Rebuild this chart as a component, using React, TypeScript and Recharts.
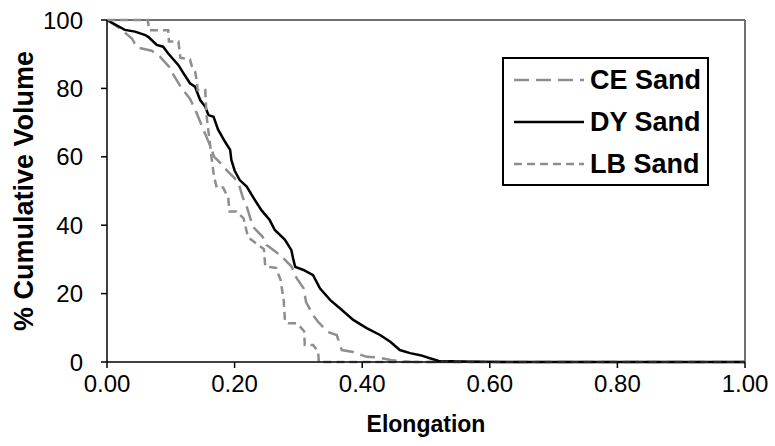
import { LineChart, Line, XAxis, YAxis, ReferenceLine } from "recharts"

const xTicks = [0, 0.2, 0.4, 0.6, 0.8, 1.0]
const yTicks = [0, 20, 40, 60, 80, 100]

const ceX = [0, 0.02, 0.039, 0.047, 0.07, 0.083, 0.099, 0.104, 0.117, 0.13, 0.14, 0.151, 0.16, 0.168, 0.176, 0.19, 0.2, 0.208, 0.213, 0.218, 0.229, 0.244, 0.25, 0.266, 0.276, 0.289, 0.297, 0.308, 0.312, 0.323, 0.331, 0.346, 0.36, 0.368, 0.386, 0.407, 0.425, 0.444, 0.46, 0.48, 1.0]
const ceY = [100, 97.6, 94.6, 92, 91, 89.3, 86, 84, 80, 77, 73, 68, 64, 60, 58.5, 55.6, 53.8, 51.2, 48, 46, 39.5, 36.6, 34.2, 32, 30.4, 28, 24.6, 21.6, 17.5, 13.7, 11.7, 8.8, 7.9, 3.5, 2.9, 1.5, 1.3, 0.6, 0.2, 0, 0]

const dyX = [0, 0.028, 0.044, 0.06, 0.065, 0.078, 0.088, 0.096, 0.112, 0.12, 0.13, 0.138, 0.146, 0.154, 0.159, 0.167, 0.174, 0.185, 0.193, 0.195, 0.2, 0.208, 0.219, 0.232, 0.242, 0.255, 0.263, 0.279, 0.289, 0.292, 0.295, 0.308, 0.323, 0.334, 0.35, 0.365, 0.386, 0.407, 0.428, 0.444, 0.459, 0.475, 0.491, 0.511, 0.52, 0.56, 0.62, 1.0]
const dyY = [100, 97.1, 96.6, 95.6, 95, 92.7, 92.2, 90.2, 86.8, 84.4, 81.5, 80.5, 76.6, 74.6, 72.2, 71.7, 68, 64.4, 62, 59, 56, 53.2, 51.3, 47.3, 44.4, 41.5, 38.6, 35.7, 32.7, 30, 27.8, 26.9, 25.4, 21.5, 18.1, 15.7, 12.3, 9.9, 7.9, 5.9, 3.5, 2.6, 2, 0.8, 0.3, 0.15, 0, 0]

const lbX = [0, 0.064, 0.066, 0.096, 0.097, 0.112, 0.115, 0.13, 0.133, 0.138, 0.141, 0.142, 0.154, 0.156, 0.16, 0.165, 0.168, 0.172, 0.182, 0.19, 0.192, 0.203, 0.214, 0.221, 0.235, 0.246, 0.248, 0.265, 0.272, 0.277, 0.279, 0.284, 0.298, 0.309, 0.31, 0.323, 0.331, 0.332, 1.0]
const lbY = [100, 100, 97, 97, 93.7, 93.7, 89, 88.5, 86.5, 85, 82, 79.5, 79.5, 72, 66, 58, 54, 51, 51, 48, 44, 44, 42, 36.5, 34.5, 33, 28, 27.5, 24, 18, 12, 11.3, 11.3, 9, 5, 5, 3, 0, 0]

const toPoints = (xs: number[], ys: number[]) => xs.map((e, i) => ({ e, v: ys[i] }))

const GRAY = "#8e8e8e"
const FONT = "'Liberation Sans', Arial, sans-serif"

const series = [
    { name: "CE Sand", stroke: GRAY, dash: "15 7" },
    { name: "DY Sand", stroke: "#000", dash: undefined },
    { name: "LB Sand", stroke: GRAY, dash: "8 5" }
]

// legend drawn as an overlay so it doesn't eat into the plot height
function LegendBox() {
    return (
        <div
            style={{
                position: "absolute",
                left: 502,
                top: 57,
                width: 203,
                height: 125,
                border: "2px solid #000",
                background: "#fff",
                fontFamily: FONT
            }}
        >
            {series.map((s, i) => (
                <div
                    key={s.name}
                    style={{
                        position: "absolute",
                        left: 10,
                        top: 6 + i * 42,
                        height: 30,
                        display: "flex",
                        alignItems: "center"
                    }}
                >
                    <svg width={70} height={10}>
                        <line
                            x1={0}
                            y1={5}
                            x2={70}
                            y2={5}
                            stroke={s.stroke}
                            strokeWidth={2.5}
                            strokeDasharray={s.dash}
                        />
                    </svg>
                    <span style={{ marginLeft: 6, fontSize: 27, fontWeight: 700, color: "#000", whiteSpace: "nowrap" }}>
                        {s.name}
                    </span>
                </div>
            ))}
        </div>
    )
}

function YTitle({ viewBox }: any) {
    const cy = viewBox.y + viewBox.height / 2
    return (
        <text
            x={24}
            y={cy}
            transform={`rotate(-90 24 ${cy})`}
            textAnchor="middle"
            dominantBaseline="central"
            fontFamily={FONT}
            fontSize={27}
            fontWeight={700}
            fill="#000"
        >
            % Cumulative Volume
        </text>
    )
}

export default function App() {
    const tick = { fill: "#000", fontSize: 24, fontFamily: FONT }
    return (
        <div style={{ position: "absolute", left: 0, top: 0, width: 775, height: 446, background: "#fff" }}>
            <LineChart width={775} height={446} margin={{ top: 20, right: 30, left: 0, bottom: 0 }}>
                <XAxis
                    type="number"
                    dataKey="e"
                    domain={[0, 1]}
                    ticks={xTicks}
                    tickFormatter={(t: number) => t.toFixed(2)}
                    height={84}
                    tick={tick}
                    tickSize={6}
                    tickMargin={7}
                    stroke="#000"
                    strokeWidth={1.5}
                    allowDuplicatedCategory={false}
                    label={{
                        value: "Elongation",
                        position: "insideBottom",
                        offset: 14,
                        style: { fill: "#000", fontSize: 23, fontWeight: 700, fontFamily: FONT }
                    }}
                />
                <YAxis
                    type="number"
                    dataKey="v"
                    domain={[0, 100]}
                    ticks={yTicks}
                    width={107}
                    tick={tick}
                    tickSize={6}
                    tickMargin={18}
                    stroke="#000"
                    strokeWidth={1.5}
                    label={<YTitle />}
                />
                <ReferenceLine y={100} stroke="#6e6e6e" strokeWidth={2} ifOverflow="visible" />
                <ReferenceLine x={1} stroke="#6e6e6e" strokeWidth={2} ifOverflow="visible" />
                <Line
                    data={toPoints(ceX, ceY)}
                    dataKey="v"
                    name="CE Sand"
                    type="linear"
                    stroke={GRAY}
                    strokeWidth={2.5}
                    strokeDasharray="15 7"
                    dot={false}
                    isAnimationActive={false}
                />
                <Line
                    data={toPoints(dyX, dyY)}
                    dataKey="v"
                    name="DY Sand"
                    type="linear"
                    stroke="#000"
                    strokeWidth={2.5}
                    dot={false}
                    isAnimationActive={false}
                />
                <Line
                    data={toPoints(lbX, lbY)}
                    dataKey="v"
                    name="LB Sand"
                    type="linear"
                    stroke={GRAY}
                    strokeWidth={2.5}
                    strokeDasharray="8 5"
                    dot={false}
                    isAnimationActive={false}
                />
            </LineChart>
            <LegendBox />
        </div>
    )
}
